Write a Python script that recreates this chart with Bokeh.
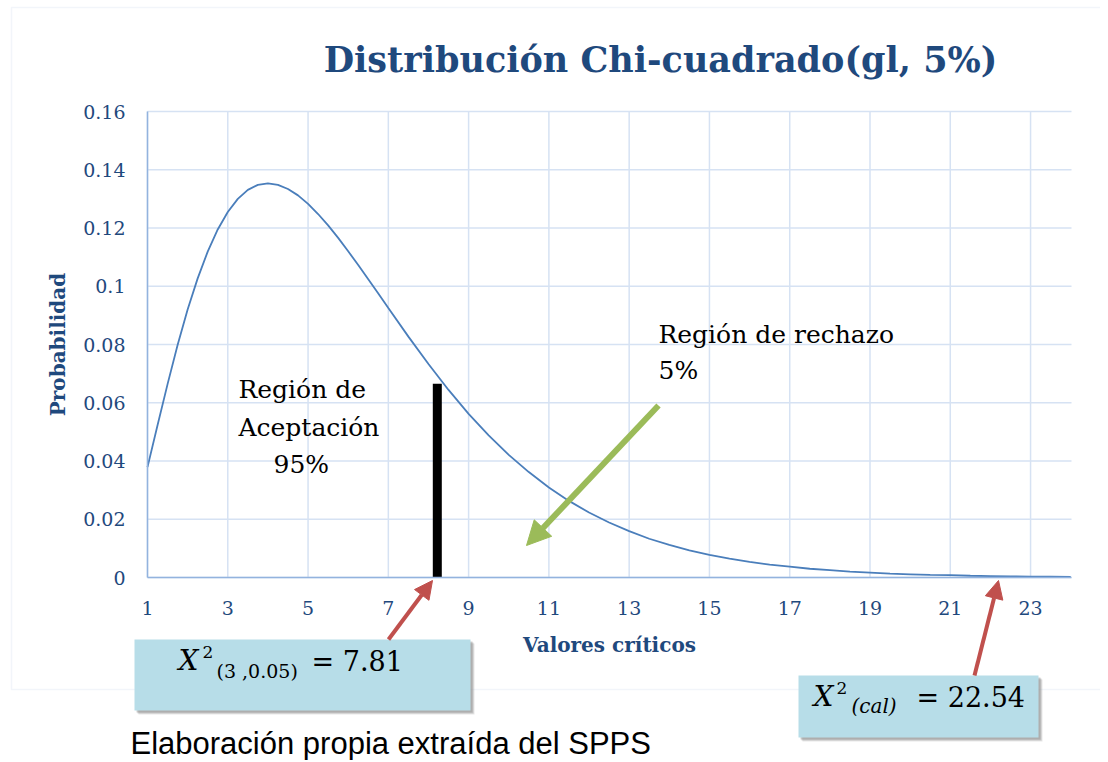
from bokeh.plotting import figure
from bokeh.models import (Range1d, FixedTicker, CustomJSTickFormatter, Label,
                          BoxAnnotation, Arrow, NormalHead, ColumnDataSource)
from bokeh.embed import file_html
from bokeh.resources import INLINE

# ---------------- data ----------------
x_vals = [1.0, 1.25, 1.5, 1.75, 2.0, 2.25, 2.5, 2.75, 3.0, 3.25, 3.5, 3.75,
          4.0, 4.25, 4.5, 4.75, 5.0, 5.25, 5.5, 5.75, 6.0, 6.25, 6.5, 6.75,
          7.0, 7.5, 8.0, 8.5, 9.0, 9.5, 10.0, 10.5, 11.0, 11.5, 12.0, 12.5,
          13.0, 13.5, 14.0, 14.5, 15.0, 15.5, 16.0, 16.5, 17.0, 17.5, 18.0,
          18.5, 19.0, 19.5, 20.0, 20.5, 21.0, 21.5, 22.0, 22.5, 23.0, 23.5, 24.0]
probabilidad = [0.0379, 0.0523, 0.0664, 0.0798, 0.0920, 0.1027, 0.1119, 0.1195,
                0.1255, 0.1300, 0.1331, 0.1348, 0.1353, 0.1348, 0.1334, 0.1312,
                0.1283, 0.1248, 0.1209, 0.1166, 0.1120, 0.1073, 0.1024, 0.0975,
                0.0925, 0.0827, 0.0733, 0.0644, 0.0562, 0.0488, 0.0421, 0.0362,
                0.0309, 0.0263, 0.0223, 0.0189, 0.0159, 0.0133, 0.0112, 0.0093,
                0.0078, 0.0065, 0.0054, 0.0044, 0.0037, 0.0030, 0.0025, 0.0020,
                0.0017, 0.0013, 0.0011, 0.0009, 0.0008, 0.0006, 0.0005, 0.0004,
                0.0003, 0.0003, 0.0002]
x_ticks = [1, 3, 5, 7, 9, 11, 13, 15, 17, 19, 21, 23]
y_ticks = [0, 0.02, 0.04, 0.06, 0.08, 0.10, 0.12, 0.14, 0.16]
x_bounds = (1, 24.02)
y_bounds = (0, 0.16)

critical_bar_x = 8.22
critical_bar_top = 0.0665

title_text = "Distribución Chi-cuadrado(gl, 5%)"
x_label = "Valores críticos"
y_label = "Probabilidad"
caption = "Elaboración propia extraída del SPPS"

# ---------------- layout / styles ----------------
W, H = 1100, 760
PL, PR, PT, PB = 147, 1071, 111, 577   # plot area in canvas pixels
DARK_BLUE = "#1F497D"
LINE_BLUE = "#4A7EBB"
GRID = "#d6e2f3"
AXIS = "#93b3de"
SERIF = "DejaVu Serif"

kx = (x_bounds[1] - x_bounds[0]) / (PR - PL)
ky = (y_bounds[1] - y_bounds[0]) / (PB - PT)
x_range = Range1d(x_bounds[0] - PL * kx, x_bounds[1] + (W - PR) * kx)
y_range = Range1d(y_bounds[0] - (H - PB) * ky, y_bounds[1] + PT * ky)


def sx(px):
    return px


def sy(py):
    return H - py


p = figure(width=W, height=H, output_backend="svg", toolbar_location=None,
           title=None, x_range=x_range, y_range=y_range,
           min_border=0, min_border_left=0, min_border_right=0,
           min_border_top=0, min_border_bottom=0)
p.outline_line_color = None
p.background_fill_color = "white"
p.border_fill_color = "white"
p.xgrid.visible = False
p.ygrid.visible = False

# axes, fixed at the plot-area edges
p.xaxis.fixed_location = y_bounds[0]
p.yaxis.fixed_location = x_bounds[0]
p.xaxis.bounds = x_bounds
p.yaxis.bounds = y_bounds
p.xaxis.ticker = FixedTicker(ticks=x_ticks)
p.yaxis.ticker = FixedTicker(ticks=y_ticks)
p.yaxis.formatter = CustomJSTickFormatter(code="return String(+tick.toFixed(2));")
for ax in (p.xaxis[0], p.yaxis[0]):
    ax.major_tick_line_color = None
    ax.minor_tick_line_color = None
    ax.major_tick_out = 0
    ax.major_tick_in = 0
    ax.axis_line_color = AXIS
    ax.axis_line_width = 1.5
    ax.major_label_text_font = SERIF
    ax.major_label_text_font_size = "19px"
    ax.major_label_text_color = DARK_BLUE
    ax.axis_label_text_font = SERIF
    ax.axis_label_text_font_style = "bold"
    ax.axis_label_text_font_size = "20px"
    ax.axis_label_text_color = DARK_BLUE
p.xaxis.axis_label = x_label
p.yaxis.axis_label = y_label
p.xaxis.major_label_standoff = 23
p.yaxis.major_label_standoff = 22
p.xaxis.axis_label_standoff = 15
p.yaxis.axis_label_standoff = 10

# grid lines (from the tick lists)
p.segment(x0=x_ticks, y0=[y_bounds[0]] * len(x_ticks), x1=x_ticks,
          y1=[y_bounds[1]] * len(x_ticks), line_color=GRID, line_width=1.5)
p.segment(x0=[x_bounds[0]] * len(y_ticks), y0=y_ticks, x1=[x_bounds[1]] * len(y_ticks),
          y1=y_ticks, line_color=GRID, line_width=1.5)

# curve
src = ColumnDataSource(dict(x=x_vals, y=probabilidad))
p.line("x", "y", source=src, line_color=LINE_BLUE, line_width=1.8)

# critical value bar
p.segment(x0=[critical_bar_x], y0=[0], x1=[critical_bar_x], y1=[critical_bar_top],
          line_color="black", line_width=9, line_cap="butt")

# outer chart border
p.add_layout(BoxAnnotation(left=sx(11), right=sx(1130), top=sy(7), bottom=sy(689),
                           left_units="screen", right_units="screen",
                           top_units="screen", bottom_units="screen",
                           fill_color=None, line_color="#d5dfee", line_width=1.5,
                           level="underlay"))


def label(text, x, baseline, size, font=SERIF, style="normal", color="black", align="left"):
    # place by the visual middle of the line (baseline minus ~0.35 em)
    y_mid = baseline - 0.35 * size
    p.add_layout(Label(x=sx(x), y=sy(y_mid), x_units="screen", y_units="screen",
                       text=text, text_font=font, text_font_size=f"{size}px",
                       text_font_style=style, text_color=color,
                       text_align=align, text_baseline="middle"))


# title
label(title_text, 660, 71, 35, style="bold", color=DARK_BLUE, align="center")

# region texts
label("Región de", 238, 398, 25)
label("Aceptación", 238, 436, 25)
label("95%", 273, 473, 25)
label("Región de rechazo", 658, 343, 25)
label("5%", 658, 379, 25)

# green arrow
p.add_layout(Arrow(x_start=sx(658), y_start=sy(405), x_end=sx(526), y_end=sy(545),
                   start_units="screen", end_units="screen",
                   line_color="#9BBB59", line_width=6,
                   end=NormalHead(size=24, fill_color="#9BBB59", line_color="#9BBB59")))


def box(l, t, r, b):
    for off, alpha in ((4, 0.2), (3, 0.3), (2, 0.35)):
        p.add_layout(BoxAnnotation(left=sx(l + off), right=sx(r + off), top=sy(t + off),
                                   bottom=sy(b + off), left_units="screen", right_units="screen",
                                   top_units="screen", bottom_units="screen",
                                   fill_color="#808080", fill_alpha=alpha, line_color=None))
    p.add_layout(BoxAnnotation(left=sx(l), right=sx(r), top=sy(t), bottom=sy(b),
                               left_units="screen", right_units="screen",
                               top_units="screen", bottom_units="screen",
                               fill_color="#B7DDE8", fill_alpha=1.0, line_color=None))


box(134, 639, 470, 710)
box(798, 675, 1038, 737)

# red arrows
for (x0, y0, x1, y1) in ((388, 639, 432, 580), (974, 675, 998, 580)):
    p.add_layout(Arrow(x_start=sx(x0), y_start=sy(y0), x_end=sx(x1), y_end=sy(y1),
                       start_units="screen", end_units="screen",
                       line_color="#C0504D", line_width=4,
                       end=NormalHead(size=18, fill_color="#C0504D", line_color="#C0504D")))

# box 1 math text
label("X", 178, 670, 28, style="italic")
label("2", 202, 657, 17)
label("(3 ,0.05)", 216, 677, 19)
label("= 7.81", 311, 670, 27)

# box 2 math text
label("X", 813, 706, 28, style="italic")
label("2", 836, 693, 17)
label("(cal)", 851, 712, 20, style="italic")
label("= 22.54", 916, 706, 27)

# caption
label(caption, 130, 754, 31, font="Liberation Sans")

open("out.html", "w").write(file_html(p, INLINE))
